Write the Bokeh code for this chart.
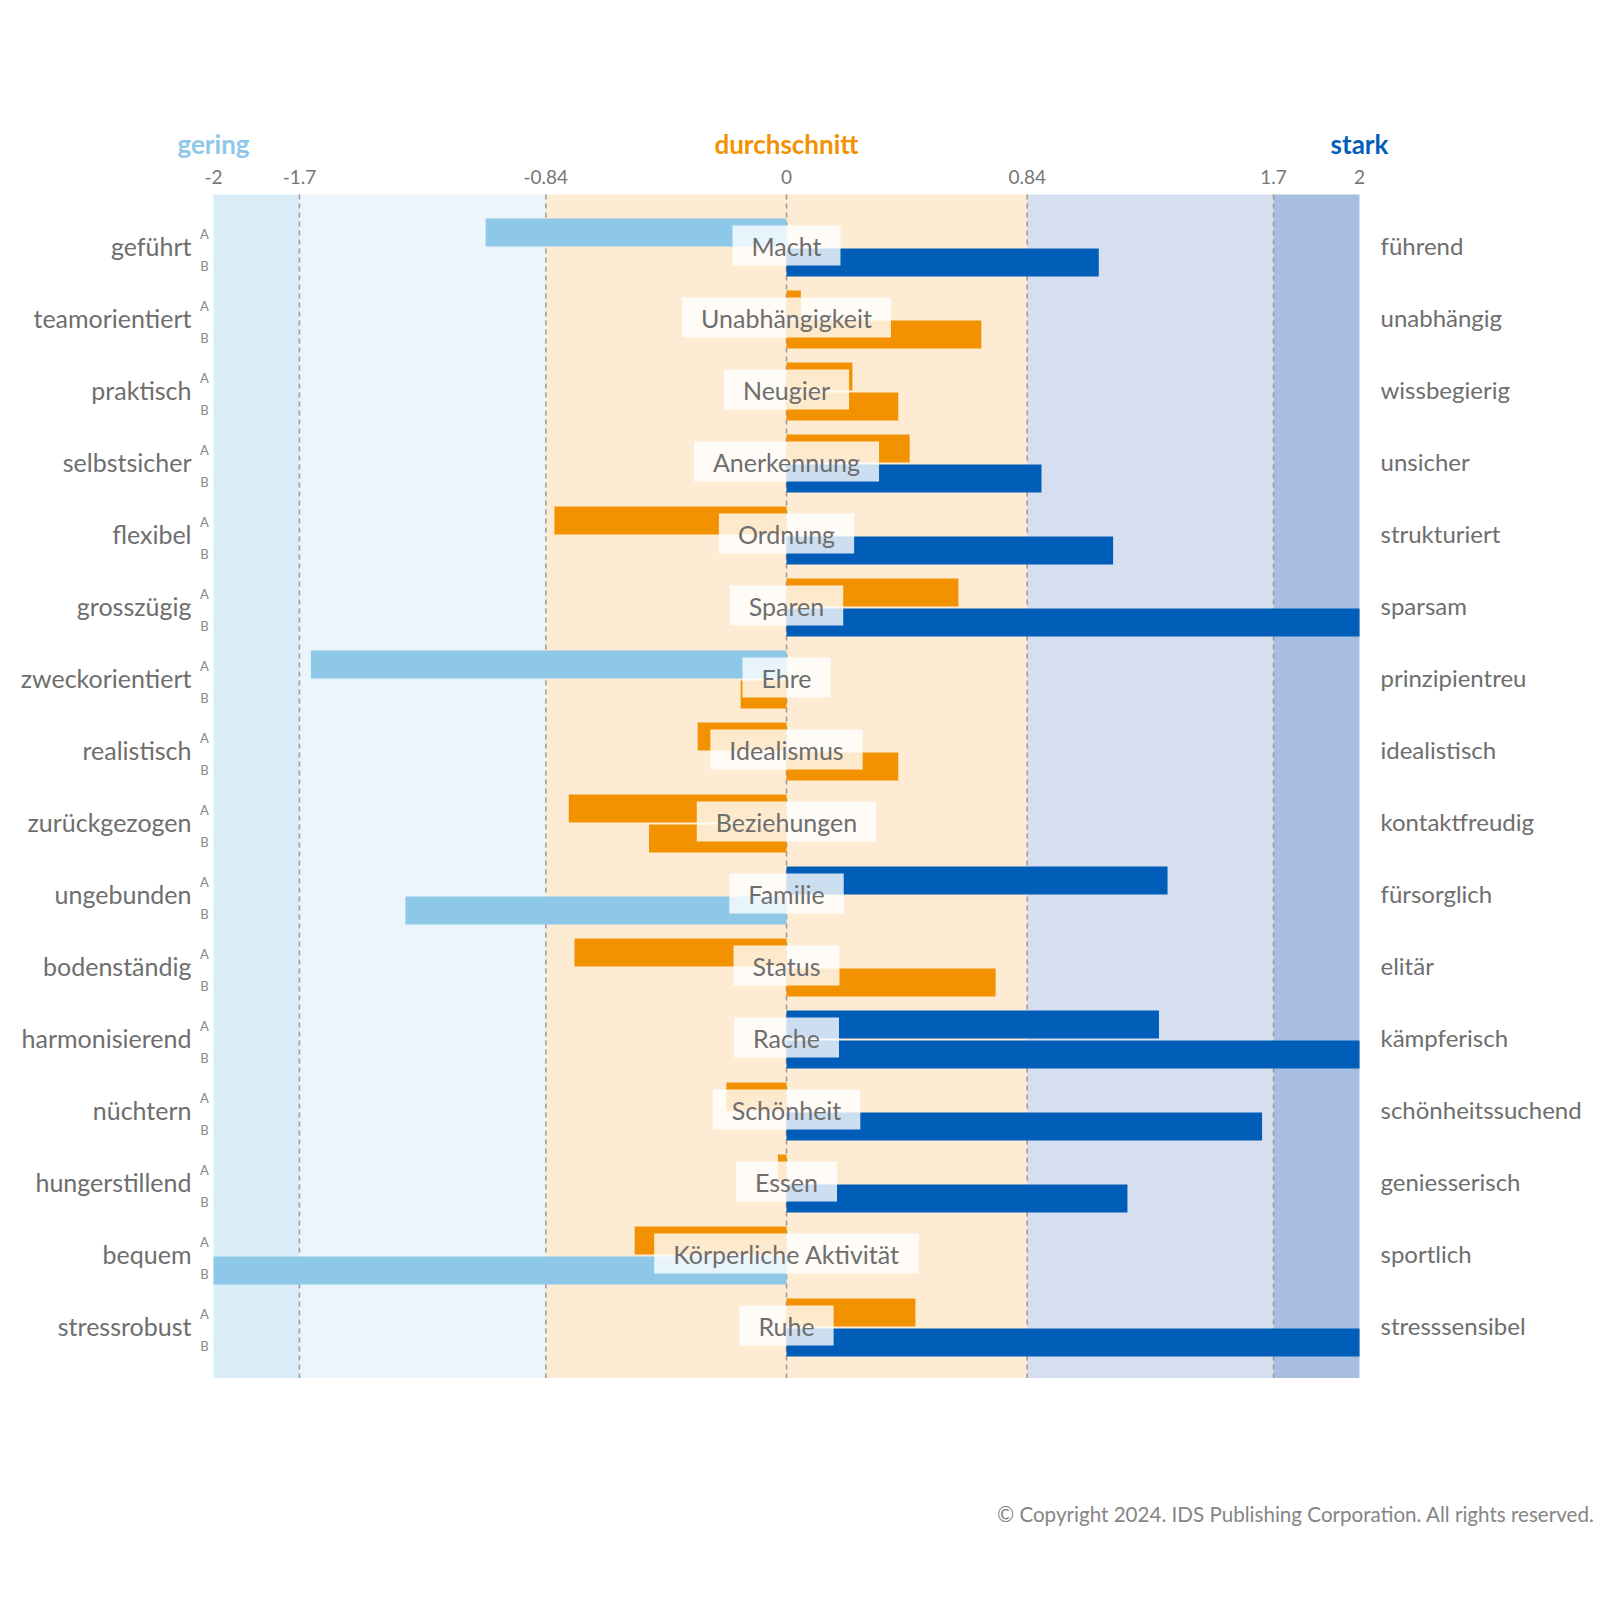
from bokeh.plotting import figure
from bokeh.models import ColumnDataSource, Range1d
from bokeh.core.properties import value
from bokeh.embed import file_html
from bokeh.resources import INLINE

# ---------------- data ----------------
motives = ["Macht", "Unabhängigkeit", "Neugier", "Anerkennung", "Ordnung", "Sparen",
           "Ehre", "Idealismus", "Beziehungen", "Familie", "Status", "Rache",
           "Schönheit", "Essen", "Körperliche Aktivität", "Ruhe"]
left_labels = ["geführt", "teamorientiert", "praktisch", "selbstsicher", "flexibel",
               "grosszügig", "zweckorientiert", "realistisch", "zurückgezogen",
               "ungebunden", "bodenständig", "harmonisierend", "nüchtern",
               "hungerstillend", "bequem", "stressrobust"]
right_labels = ["führend", "unabhängig", "wissbegierig", "unsicher", "strukturiert",
                "sparsam", "prinzipientreu", "idealistisch", "kontaktfreudig",
                "fürsorglich", "elitär", "kämpferisch", "schönheitssuchend",
                "geniesserisch", "sportlich", "stresssensibel"]
values_a = [-1.05, 0.05, 0.23, 0.43, -0.81, 0.60, -1.66, -0.31, -0.76, 1.33,
            -0.74, 1.30, -0.21, -0.03, -0.53, 0.45]
values_b = [1.09, 0.68, 0.39, 0.89, 1.14, 2.0, -0.16, 0.39, -0.48, -1.33,
            0.73, 2.0, 1.66, 1.19, -2.0, 2.0]
series_names = ["A", "B"]

band_edges = [-2, -1.7, -0.84, 0.84, 1.7, 2]
band_colors = ["#DAECF8", "#EDF5FC", "#FDEBD4", "#D5DFEF", "#A7BEE0"]
ref_lines = [-1.7, -0.84, 0, 0.84, 1.7]
tick_values = [-2, -1.7, -0.84, 0, 0.84, 1.7, 2]
tick_labels = ["-2", "-1.7", "-0.84", "0", "0.84", "1.7", "2"]
zone_names = ["gering", "durchschnitt", "stark"]
zone_positions = [-2, 0, 2]
zone_colors = ["#8EC8E8", "#F39200", "#005EB8"]
copyright_text = "© Copyright 2024. IDS Publishing Corporation. All rights reserved."

LOW_COLOR = "#8EC8E8"
MID_COLOR = "#F39200"
HIGH_COLOR = "#005EB8"
TEXT_COLOR = "#6e6e6e"
FONT = "Lato"


def bar_color(v):
    if v <= -0.84:
        return LOW_COLOR
    if v >= 0.84:
        return HIGH_COLOR
    return MID_COLOR


# ---------------- layout (pixel geometry of the canvas) ----------------
W = H = 1600
X_LEFT_PX, X_RIGHT_PX = 213, 1359      # where -2 and +2 sit
ROW0_PX, ROW_PITCH = 247, 72           # centre of first row, row pitch
PX_PER_UNIT = (X_RIGHT_PX - X_LEFT_PX) / 4.0

x_start = -2 - X_LEFT_PX / PX_PER_UNIT
x_end = -2 + (W - X_LEFT_PX) / PX_PER_UNIT
y_start_top = -ROW0_PX / ROW_PITCH
y_end_bottom = (H - ROW0_PX) / ROW_PITCH

n = len(motives)
rows = list(range(n))
y_top = -0.736                # top of the band area
y_bottom = n - 1 + 0.70       # bottom of the band area
bar_h = 0.389
bar_off = 0.208

p = figure(width=W, height=H,
           x_range=Range1d(x_start, x_end), y_range=Range1d(y_end_bottom, y_start_top),
           x_axis_location=None, y_axis_location=None,
           toolbar_location=None, output_backend="svg",
           min_border=0)
p.outline_line_color = None
p.grid.visible = False
p.background_fill_color = "white"
p.border_fill_color = "white"

# background bands
p.quad(left=band_edges[:-1], right=band_edges[1:], top=y_top, bottom=y_bottom,
       fill_color=band_colors, line_color=None)

# dashed reference lines
p.segment(x0=ref_lines, y0=y_top, x1=ref_lines, y1=y_bottom,
          line_color="#9a9a9a", line_width=1.5, line_dash="5 4")

# bars
src_a = ColumnDataSource(dict(y=[r - bar_off for r in rows], right=values_a,
                              color=[bar_color(v) for v in values_a]))
src_b = ColumnDataSource(dict(y=[r + bar_off for r in rows], right=values_b,
                              color=[bar_color(v) for v in values_b]))
p.hbar(y="y", left=0, right="right", height=bar_h, fill_color="color",
       line_color=None, source=src_a)
p.hbar(y="y", left=0, right="right", height=bar_h, fill_color="color",
       line_color=None, source=src_b)

# motive labels in boxes
p.text(x=0, y=rows, text=motives, y_offset=-2,
       text_align="center", text_baseline="middle",
       text_font=value(FONT), text_font_size="25px", text_color=TEXT_COLOR,
       background_fill_color="white", background_fill_alpha=0.8,
       padding=dict(x=19, y=5))

# left / right pole labels
p.text(x=-2, y=rows, text=left_labels, x_offset=-22, y_offset=-2,
       text_align="right", text_baseline="middle",
       text_font=value(FONT), text_font_size="25px", text_color=TEXT_COLOR)
p.text(x=2, y=rows, text=right_labels, x_offset=21, y_offset=-2,
       text_align="left", text_baseline="middle",
       text_font=value(FONT), text_font_size="24px", text_color=TEXT_COLOR)

# A / B markers
ab_y = [r - 0.19 for r in rows] + [r + 0.25 for r in rows]
ab_t = [series_names[0]] * n + [series_names[1]] * n
p.text(x=-2, y=ab_y, text=ab_t, x_offset=-9,
       text_align="center", text_baseline="middle",
       text_font=value(FONT), text_font_size="13px", text_color="#888888")

# tick labels
p.text(x=tick_values, y=y_top - 17.5 / ROW_PITCH, text=tick_labels,
       text_align="center", text_baseline="middle",
       text_font=value(FONT), text_font_size="19px", text_color="#777777")

# zone headers
p.text(x=zone_positions, y=y_top - 51 / ROW_PITCH, text=zone_names,
       text_align="center", text_baseline="middle",
       text_font=value(FONT), text_font_size="26px", text_font_style="bold",
       text_color=zone_colors)

# copyright
p.text(x=[-2 + (1594 - X_LEFT_PX) / PX_PER_UNIT], y=[(1513 - ROW0_PX) / ROW_PITCH],
       text=[copyright_text], text_align="right", text_baseline="middle",
       text_font=value(FONT), text_font_size="20.6px", text_color="#858585")

open("out.html", "w").write(file_html(p, INLINE))
